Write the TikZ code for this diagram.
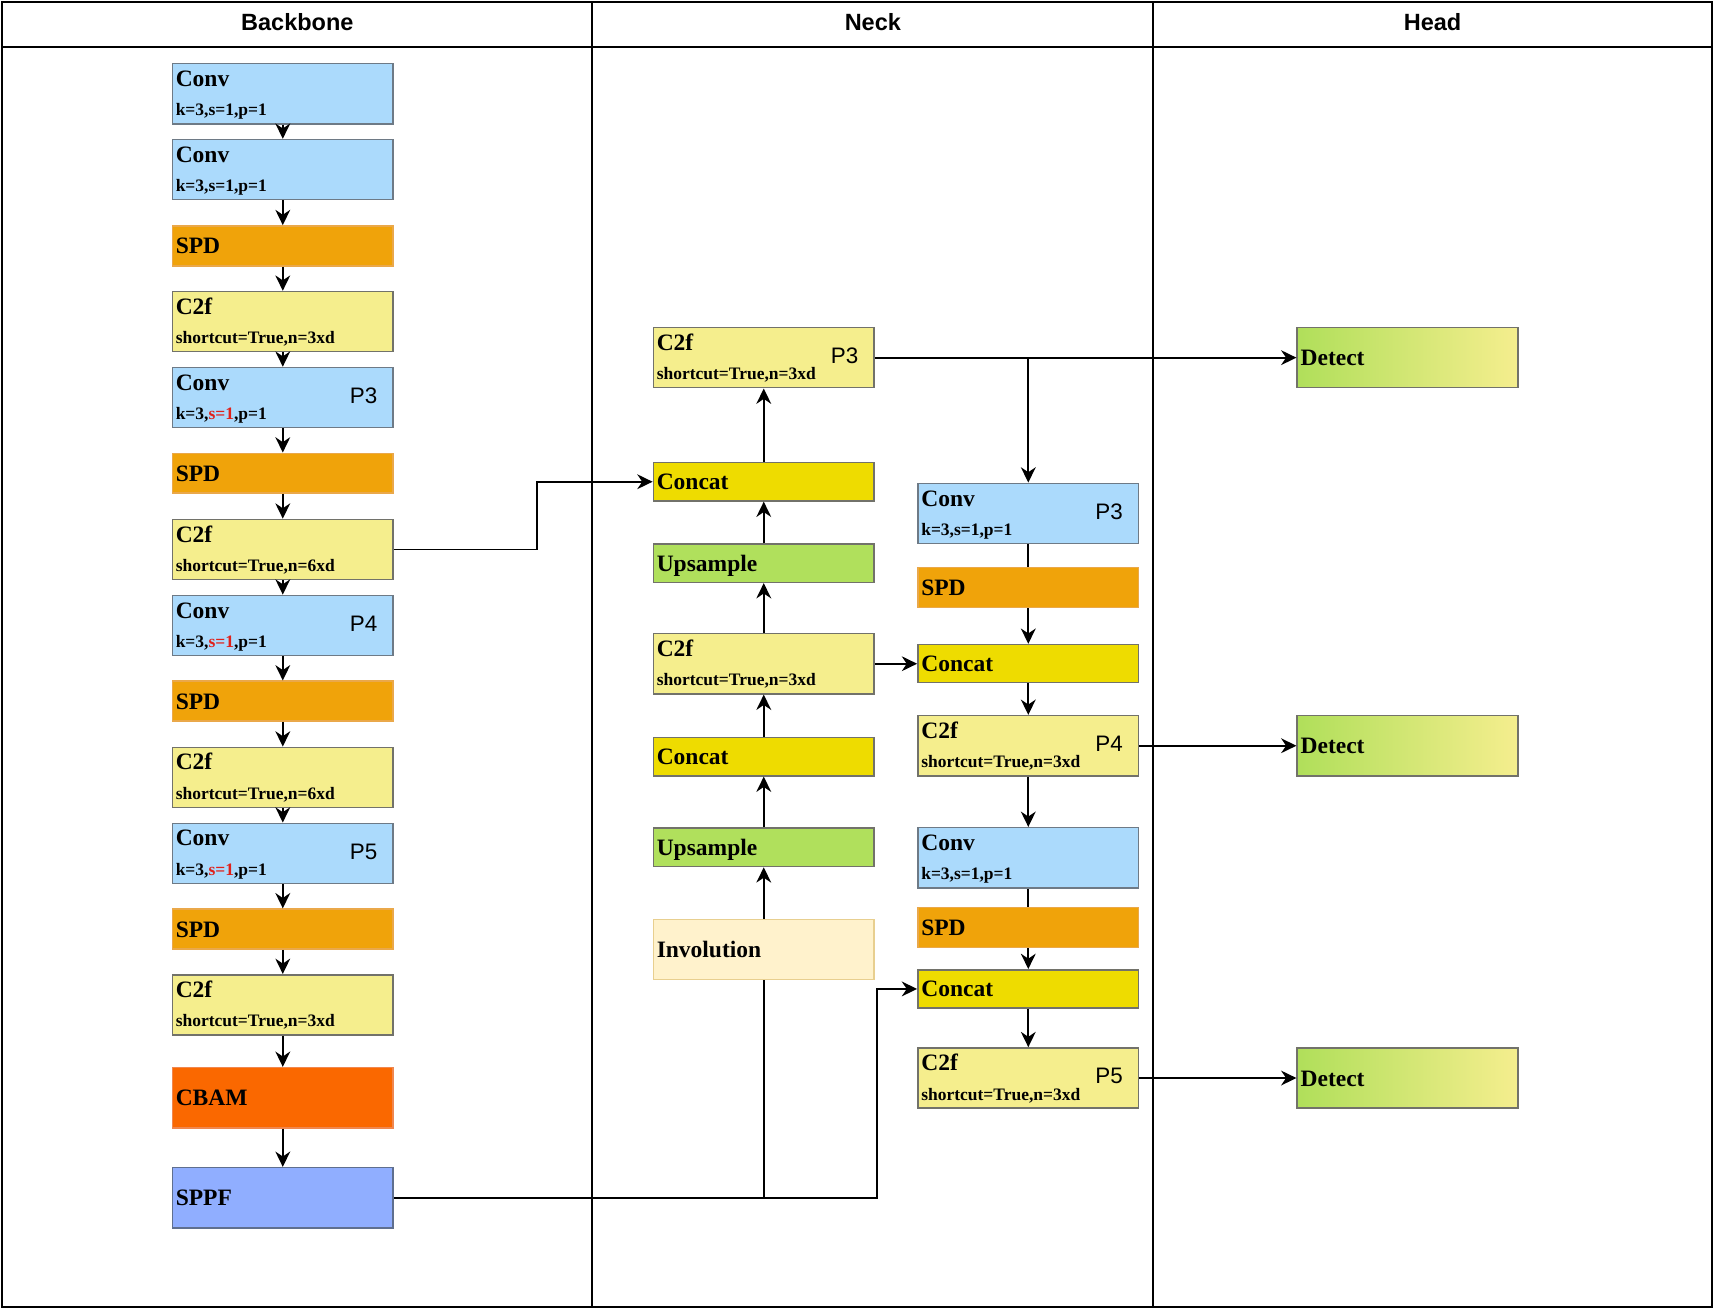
\documentclass[tikz,border=0pt]{standalone}
\usepackage{fontspec}
\setmainfont{Liberation Serif}
\newfontfamily\hsans{Liberation Sans}
\usetikzlibrary{arrows.meta,calc}
\pgfdeclarelayer{bg}
\pgfsetlayers{bg,main}
\definecolor{cconv}{HTML}{ABDAFC}
\definecolor{sconv}{HTML}{6E7A86}
\definecolor{cspd}{HTML}{F0A30A}
\definecolor{sspd}{HTML}{EAA84A}
\definecolor{cc2f}{HTML}{F5EE8D}
\definecolor{sgray}{HTML}{72726A}
\definecolor{ccat}{HTML}{EEDC00}
\definecolor{cups}{HTML}{B0E05C}
\definecolor{cinv}{HTML}{FFF2CC}
\definecolor{sinv}{HTML}{E8CF8F}
\definecolor{ccbam}{HTML}{FA6800}
\definecolor{scbam}{HTML}{F0874F}
\definecolor{csppf}{HTML}{90AEFF}
\definecolor{ssppf}{HTML}{5F6F8F}
\definecolor{cdl}{HTML}{B0DF5A}
\definecolor{cdr}{HTML}{F5EE8E}
\definecolor{sred}{HTML}{E0201A}
\tikzset{
  bx/.style={draw, rectangle, anchor=north west, minimum width=202pt, inner sep=0pt, line width=1.4pt},
  ttl/.style={anchor=base west, inner sep=0pt, font=\fontsize{21.5}{24}\selectfont\bfseries},
  sub/.style={anchor=base west, inner sep=0pt, font=\fontsize{16}{18}\selectfont\bfseries},
  plb/.style={anchor=base east, inner sep=0pt, font=\hsans\fontsize{20.5}{23}\selectfont},
  hdr/.style={anchor=base, inner sep=0pt, font=\hsans\bfseries\fontsize{21.5}{24}\selectfont},
  conv/.style={fill=cconv, draw=sconv},
  spd/.style={fill=cspd, draw=sspd},
  c2f/.style={fill=cc2f, draw=sgray},
  cat/.style={fill=ccat, draw=sgray},
  ups/.style={fill=cups, draw=sgray},
  inv/.style={fill=cinv, draw=sinv},
  cbam/.style={fill=ccbam, draw=scbam},
  sppf/.style={fill=csppf, draw=ssppf},
  det/.style={left color=cdl, right color=cdr, draw=sgray},
  arr/.style={line width=1.8pt, -{Stealth[length=14pt,width=13.5pt,inset=4.5pt]}},
  ln/.style={line width=1.8pt},
  frm/.style={line width=1.8pt},
}
\newcommand\blkone[6]{%
  \node[bx,#2,minimum height=#5pt] (#1) at (#3,#4) {};
  \node[ttl] (#1t) at ([xshift=3.6pt,yshift=-7.3pt]#1.west) {#6};
}
\newcommand\blktwo[6]{%
  \node[bx,#2,minimum height=55pt] (#1) at (#3,#4) {};
  \node[ttl] (#1t) at ([xshift=3.6pt,yshift=-21.4pt]#1.north west) {#5};
  \node[sub] (#1s) at ([xshift=3.6pt,yshift=-48.3pt]#1.north west) {#6};
}
\newcommand\plab[2]{%
  \node[plb] (#1p) at ([xshift=-15pt,yshift=-33.5pt]#1.north east) {#2};
}
\begin{document}
\begin{tikzpicture}[x=1pt,y=-1pt]
\useasboundingbox (0,0) rectangle (1568,1198.4);
% frame
\draw[frm] (2,2) rectangle (1566,1195.5);
\draw[frm] (2,43) -- (1566,43);
\draw[frm] (542,2) -- (542,1195.5);
\draw[frm] (1055,2) -- (1055,1195.5);
\node[hdr] (hb) at (272,27.6) {Backbone};
\node[hdr] (hn) at (798.5,27.6) {Neck};
\node[hdr] (hh) at (1310.5,27.6) {Head};
% backbone
\blktwo{b1}{conv}{157}{57.5}{Conv}{k=3,s=1,p=1}
\blktwo{b2}{conv}{157}{127}{Conv}{k=3,s=1,p=1}
\blkone{b3}{spd}{157}{206}{36.5}{SPD}
\blktwo{b4}{c2f}{157}{266}{C2f}{shortcut=True,n=3xd}
\blktwo{b5}{conv}{157}{335.5}{Conv}{k=3,\textcolor{sred}{s=1},p=1}
\plab{b5}{P3}
\blkone{b6}{spd}{157}{414}{36.5}{SPD}
\blktwo{b7}{c2f}{157}{474.5}{C2f}{shortcut=True,n=6xd}
\blktwo{b8}{conv}{157}{544}{Conv}{k=3,\textcolor{sred}{s=1},p=1}
\plab{b8}{P4}
\blkone{b9}{spd}{157}{622.5}{36.5}{SPD}
\blktwo{b10}{c2f}{157}{683}{C2f}{shortcut=True,n=6xd}
\blktwo{b11}{conv}{157}{752.5}{Conv}{k=3,\textcolor{sred}{s=1},p=1}
\plab{b11}{P5}
\blkone{b12}{spd}{157}{831}{36.5}{SPD}
\blktwo{b13}{c2f}{157}{891}{C2f}{shortcut=True,n=3xd}
\blkone{b14}{cbam}{157}{976}{55}{CBAM}
\blkone{b15}{sppf}{157}{1067.5}{55}{SPPF}
% neck left
\blktwo{n1}{c2f}{597}{299}{C2f}{shortcut=True,n=3xd}
\plab{n1}{P3}
\blkone{n2}{cat}{597}{422.5}{35}{Concat}
\blkone{n3}{ups}{597}{497}{35}{Upsample}
\blktwo{n4}{c2f}{597}{579}{C2f}{shortcut=True,n=3xd}
\blkone{n5}{cat}{597}{674}{35}{Concat}
\blkone{n6}{ups}{597}{757}{35}{Upsample}
\blkone{n7}{inv}{597}{840.5}{55}{Involution}
% neck right
\blktwo{r1}{conv}{839}{441.5}{Conv}{k=3,s=1,p=1}
\plab{r1}{P3}
\blkone{r2}{spd}{839}{518.5}{36.5}{SPD}
\blkone{r3}{cat}{839}{589}{34.5}{Concat}
\blktwo{r4}{c2f}{839}{654}{C2f}{shortcut=True,n=3xd}
\plab{r4}{P4}
\blktwo{r5}{conv}{839}{756.5}{Conv}{k=3,s=1,p=1}
\blkone{r6}{spd}{839}{829.5}{36.5}{SPD}
\blkone{r7}{cat}{839}{886.5}{35}{Concat}
\blktwo{r8}{c2f}{839}{958}{C2f}{shortcut=True,n=3xd}
\plab{r8}{P5}
% head
\blkone{d1}{det}{1186}{299}{55}{Detect}
\blkone{d2}{det}{1186}{654}{55}{Detect}
\blkone{d3}{det}{1186}{958}{55}{Detect}
% bend coordinates
\coordinate (k1) at (491,0);
\coordinate (k2) at (802,0);
% connectors behind boxes
\begin{pgfonlayer}{bg}
\draw[arr] (r1.south) -- (r3.north);
\draw[arr] (r5.south) -- (r7.north);
\end{pgfonlayer}
% backbone chain
\foreach \a/\b in {b1/b2,b2/b3,b3/b4,b4/b5,b5/b6,b6/b7,b7/b8,b8/b9,b9/b10,b10/b11,b11/b12,b12/b13,b13/b14,b14/b15}
  \draw[arr] (\a.south) -- (\b.north);
% neck left chain
\foreach \a/\b in {n7/n6,n6/n5,n5/n4,n4/n3,n3/n2,n2/n1}
  \draw[arr] (\a.north) -- (\b.south);
% cross links
\draw[arr] (b7.east) -- (b7.east -| k1) |- (n2.west);
\draw[arr] (b15.east) -- (b15.east -| k2) |- (r7.west);
\draw[ln] (b15.east -| n7.south) -- (n7.south);
\draw[arr] (n4.east) -- (n4.east -| r3.west);
\draw[arr] (n1.east) -- (n1.east -| d1.west);
\draw[arr] (n1.east -| r1.north) -- (r1.north);
\draw[arr] (r3.south) -- (r4.north);
\draw[arr] (r4.east) -- (r4.east -| d2.west);
\draw[arr] (r4.south) -- (r5.north);
\draw[arr] (r7.south) -- (r8.north);
\draw[arr] (r8.east) -- (r8.east -| d3.west);
\end{tikzpicture}
\end{document}
